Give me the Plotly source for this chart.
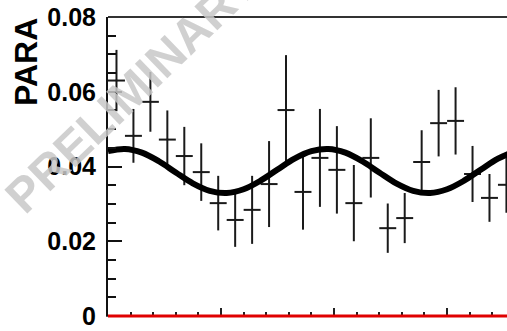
import plotly.graph_objects as go

# ---- data ----
phi = [7.5, 22.5, 37.5, 52.5, 67.5, 82.5, 97.5, 112.5, 127.5, 142.5, 157.5, 172.5,
       187.5, 202.5, 217.5, 232.5, 247.5, 262.5, 277.5, 292.5, 307.5, 322.5, 337.5, 352.5]
para = [0.0630, 0.0482, 0.0573, 0.0472, 0.0428, 0.0385, 0.0302, 0.0257, 0.0284, 0.0353,
        0.0551, 0.0332, 0.0423, 0.0391, 0.0302, 0.0423, 0.0235, 0.0262, 0.0412, 0.0516,
        0.0522, 0.0380, 0.0316, 0.0351]
para_err = [0.0082, 0.0072, 0.0080, 0.0078, 0.0078, 0.0077, 0.0073, 0.0072, 0.0091, 0.0115,
            0.0147, 0.0101, 0.0131, 0.0117, 0.0102, 0.0106, 0.0066, 0.0067, 0.0085, 0.0089,
            0.0090, 0.0075, 0.0064, 0.0075]
bin_half = [7.5] * 24

fit_phi = [0, 15, 30, 45, 60, 75, 90, 105, 120, 135, 150, 165, 180,
           195, 210, 225, 240, 255, 270, 285, 300, 315, 330, 345, 360]
fit_vals = [0.0441, 0.0447, 0.0437, 0.0414, 0.0384, 0.0355, 0.0335, 0.0329, 0.0339,
            0.0362, 0.0392, 0.0421, 0.0441, 0.0447, 0.0437, 0.0414, 0.0384, 0.0355,
            0.0335, 0.0329, 0.0339, 0.0362, 0.0392, 0.0421, 0.0441]

y_ticks = [0, 0.02, 0.04, 0.06, 0.08]
y_ticktext = ["<b>0</b>", "<b>0.02</b>", "<b>0.04</b>", "<b>0.06</b>", "<b>0.08</b>"]

FONT = "Liberation Sans, Arial, sans-serif"

fig = go.Figure()
fig.add_trace(go.Scatter(
    x=phi, y=para, mode="markers",
    marker=dict(size=2, color="#1a1a1a"),
    error_y=dict(type="data", array=para_err, visible=True, color="#1a1a1a", thickness=2, width=0),
    error_x=dict(type="data", array=bin_half, visible=True, color="#1a1a1a", thickness=2, width=0),
    cliponaxis=True, showlegend=False,
))
fig.add_trace(go.Scatter(
    x=fit_phi, y=fit_vals, mode="lines",
    line=dict(color="black", width=6, shape="spline"),
    showlegend=False,
))

fig.update_layout(
    width=507, height=331,
    margin=dict(l=108, r=0, t=17, b=15),
    paper_bgcolor="white", plot_bgcolor="white",
    font=dict(family=FONT, color="black"),
    xaxis=dict(range=[0, 353], showgrid=False, zeroline=False,
               showline=True, linecolor="#555555", linewidth=1,
               ticks="inside", ticklen=8, tickwidth=2, tickcolor="#222222",
               tick0=0, dtick=100, showticklabels=False,
               minor=dict(ticks="inside", ticklen=4, tickwidth=2, dtick=20, tickcolor="#222222")),
    yaxis=dict(range=[0, 0.08], showgrid=False, zeroline=False,
               showline=True, linecolor="#111111", linewidth=2,
               ticks="inside", ticklen=14, tickwidth=2, tickcolor="#111111",
               tickvals=y_ticks, ticktext=y_ticktext,
               tickfont=dict(family=FONT, size=25, color="black"),
               ticklabelstandoff=5,
               minor=dict(ticks="inside", ticklen=8, tickwidth=2, dtick=0.005, tickcolor="#111111")),
    shapes=[
        dict(type="line", xref="paper", yref="paper", x0=0, x1=1, y0=1, y1=1,
             line=dict(color="#333333", width=2), layer="above"),
        dict(type="line", xref="paper", yref="paper", x0=0, x1=1, y0=0, y1=0,
             line=dict(color="#e00000", width=3), layer="above"),
    ],
    annotations=[
        dict(text="<b>PRELIMINARY</b>", xref="paper", yref="paper", x=0.060, y=0.759,
             textangle=-44, showarrow=False, xanchor="center", yanchor="middle",
             font=dict(family=FONT, size=48, color="rgba(200,200,200,0.85)")),
        dict(text="<b>PARA</b>", xref="paper", yref="paper", x=-0.2055, y=0.8495,
             textangle=-90, showarrow=False, xanchor="center", yanchor="middle",
             font=dict(family=FONT, size=32, color="black")),
    ],
)

fig.write_html("out.html")
